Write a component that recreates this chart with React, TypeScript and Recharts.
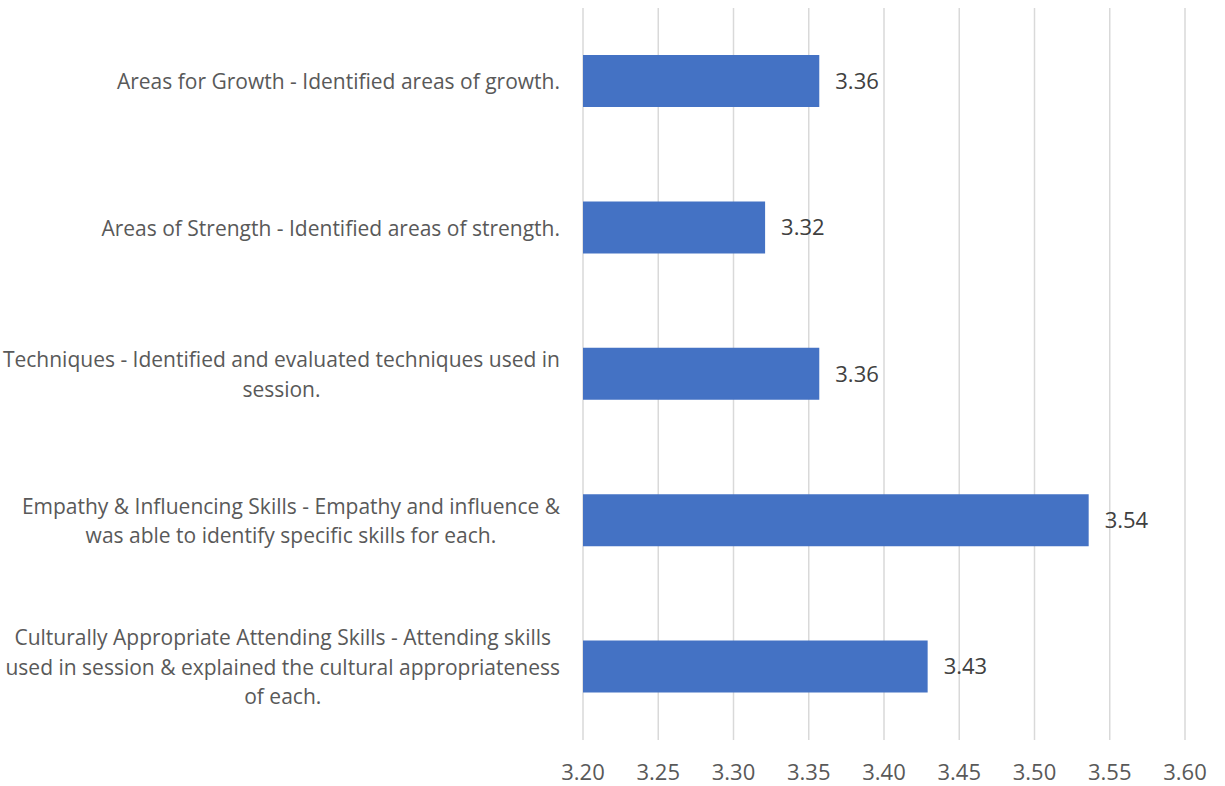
import React from "react";
import { BarChart, Bar, XAxis, YAxis, CartesianGrid, LabelList } from "recharts";

const categories: string[] = [
  "Areas for Growth - Identified areas of growth.",
  "Areas of Strength - Identified areas of strength.",
  "Techniques - Identified and evaluated techniques used in\nsession.",
  "Empathy & Influencing Skills - Empathy and influence &\nwas able to identify specific skills for each.",
  "Culturally Appropriate Attending Skills - Attending skills\nused in session & explained the cultural appropriateness\nof each.",
];
const values: number[] = [3.357, 3.321, 3.357, 3.536, 3.429];
const xTicks: number[] = [3.2, 3.25, 3.3, 3.35, 3.4, 3.45, 3.5, 3.55, 3.6];

const data = categories.map((name, i) => ({ name, value: values[i] }));

const FONT = "'Open Sans', sans-serif";
const FS = 21;
const NUM_FS = 22;
const TEXT_COLOR = "#595959";

let ctx: CanvasRenderingContext2D | null = null;
function measure(s: string): number {
  if (!ctx) {
    const c = document.createElement("canvas");
    ctx = c.getContext("2d");
  }
  if (!ctx) return s.length * FS * 0.5;
  ctx.font = `${FS}px 'Open Sans'`;
  return ctx.measureText(s).width;
}

const YTick = (props: any) => {
  const { x, y, payload } = props;
  const lines: string[] = String(payload.value).split("\n");
  const widths = lines.map(measure);
  const blockW = Math.max(...widths);
  const right = x - 15;
  const cx = right - blockW / 2;
  const lh = 29.5;
  const startY = y - ((lines.length - 1) * lh) / 2;
  return (
    <g>
      {lines.map((l, i) => (
        <text
          key={i}
          x={cx}
          y={startY + i * lh}
          textAnchor="middle"
          dominantBaseline="central"
          fontFamily={FONT}
          fontSize={FS}
          fill={TEXT_COLOR}
        >
          {l}
        </text>
      ))}
    </g>
  );
};

export default function App() {
  return (
    <div style={{ position: "absolute", left: 0, top: 0, background: "#fff" }}>
      <BarChart
        width={1225}
        height={786}
        data={data}
        layout="vertical"
        margin={{ top: 8, right: 40, bottom: 0, left: 0 }}
        barCategoryGap={0}
      >
        <CartesianGrid horizontal={false} stroke="#d9d9d9" strokeWidth={1.5} />
        <XAxis
          type="number"
          domain={[3.2, 3.6]}
          ticks={xTicks}
          tickFormatter={(v: number) => v.toFixed(2)}
          axisLine={false}
          tickLine={false}
          height={46}
          tickMargin={18}
          tick={{ fontFamily: FONT, fontSize: NUM_FS, fill: TEXT_COLOR }}
          interval={0}
          allowDataOverflow
        />
        <YAxis
          type="category"
          dataKey="name"
          width={583}
          axisLine={false}
          tickLine={false}
          tick={<YTick />}
          interval={0}
        />
        <Bar dataKey="value" fill="#4472C4" barSize={52} isAnimationActive={false}>
          <LabelList
            dataKey="value"
            position="right"
            offset={16}
            formatter={(v: any) => Number(v).toFixed(2)}
            style={{ fontFamily: FONT, fontSize: NUM_FS, fill: "#404040" }}
          />
        </Bar>
      </BarChart>
    </div>
  );
}
